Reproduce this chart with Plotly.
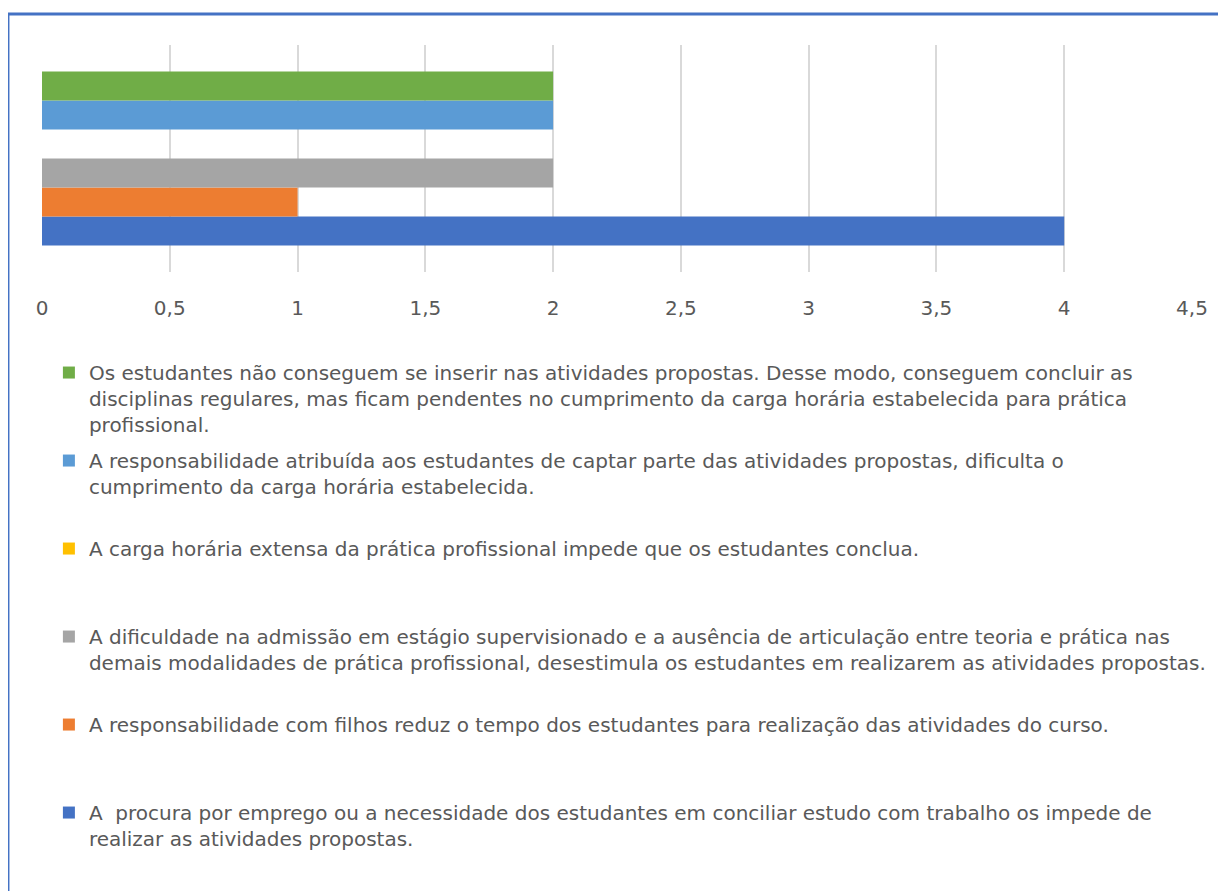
import plotly.graph_objects as go

category = ["Dificuldades"]
series_names = [
    "A  procura por emprego ou a necessidade dos estudantes em conciliar estudo com trabalho os impede de<br>realizar as atividades propostas.<br>&nbsp;",
    "A responsabilidade com filhos reduz o tempo dos estudantes para realização das atividades do curso.<br>&nbsp;<br>&nbsp;",
    "A dificuldade na admissão em estágio supervisionado e a ausência de articulação entre teoria e prática nas<br>demais modalidades de prática profissional, desestimula os estudantes em realizarem as atividades propostas.<br>&nbsp;",
    "A carga horária extensa da prática profissional impede que os estudantes conclua.<br>&nbsp;<br>&nbsp;",
    "A responsabilidade atribuída aos estudantes de captar parte das atividades propostas, dificulta o<br>cumprimento da carga horária estabelecida.<br>&nbsp;",
    "Os estudantes não conseguem se inserir nas atividades propostas. Desse modo, conseguem concluir as<br>disciplinas regulares, mas ficam pendentes no cumprimento da carga horária estabelecida para prática<br>profissional.",
]
series_values = [4, 1, 2, 0, 2, 2]
series_colors = ["#4472C4", "#ED7D31", "#A5A5A5", "#FFC000", "#5B9BD5", "#70AD47"]
x_ticks = [0, 0.5, 1, 1.5, 2, 2.5, 3, 3.5, 4, 4.5]

FONT = "DejaVu Sans, sans-serif"

fig = go.Figure()
n = len(series_names)
for i, (name, val, col) in enumerate(zip(series_names, series_values, series_colors)):
    fig.add_trace(go.Bar(
        y=category, x=[val], name=name, orientation="h", legendgroup=f"g{i}",
        legendrank=1000 + (n - i), marker=dict(color=col, line=dict(width=0)),
    ))

fig.update_layout(
    width=1226, height=891,
    margin=dict(l=34, r=42, t=37, b=627),
    paper_bgcolor="white", plot_bgcolor="white",
    barmode="group", bargap=0.233, bargroupgap=0,
    separators=", ",
    font=dict(family=FONT, color="#595959", size=20),
    xaxis=dict(
        range=[0, 4.5], tickvals=x_ticks, showgrid=True, gridcolor="#D9D9D9",
        gridwidth=2, zeroline=False, showline=False, ticks="",
        ticklabelstandoff=22, tickfont=dict(size=20, color="#595959"),
    ),
    yaxis=dict(showticklabels=False, showgrid=False, zeroline=False, range=[-0.5, 0.5]),
    showlegend=True,
    legend=dict(
        x=0.006, xanchor="left", y=-0.357, yanchor="top",
        traceorder="grouped", tracegroupgap=7, valign="top", itemwidth=30,
        font=dict(family=FONT, size=20, color="#595959"),
        bgcolor="rgba(0,0,0,0)", itemclick=False, itemdoubleclick=False,
        maxheight=800,
    ),
    shapes=[dict(
        type="rect", xref="paper", yref="paper",
        x0=-0.0296, x1=1.06, y0=-2.8, y1=1.1366,
        line=dict(color="#4472C4", width=3), fillcolor="rgba(0,0,0,0)", layer="below",
    )],
)

fig.write_html("out.html")
